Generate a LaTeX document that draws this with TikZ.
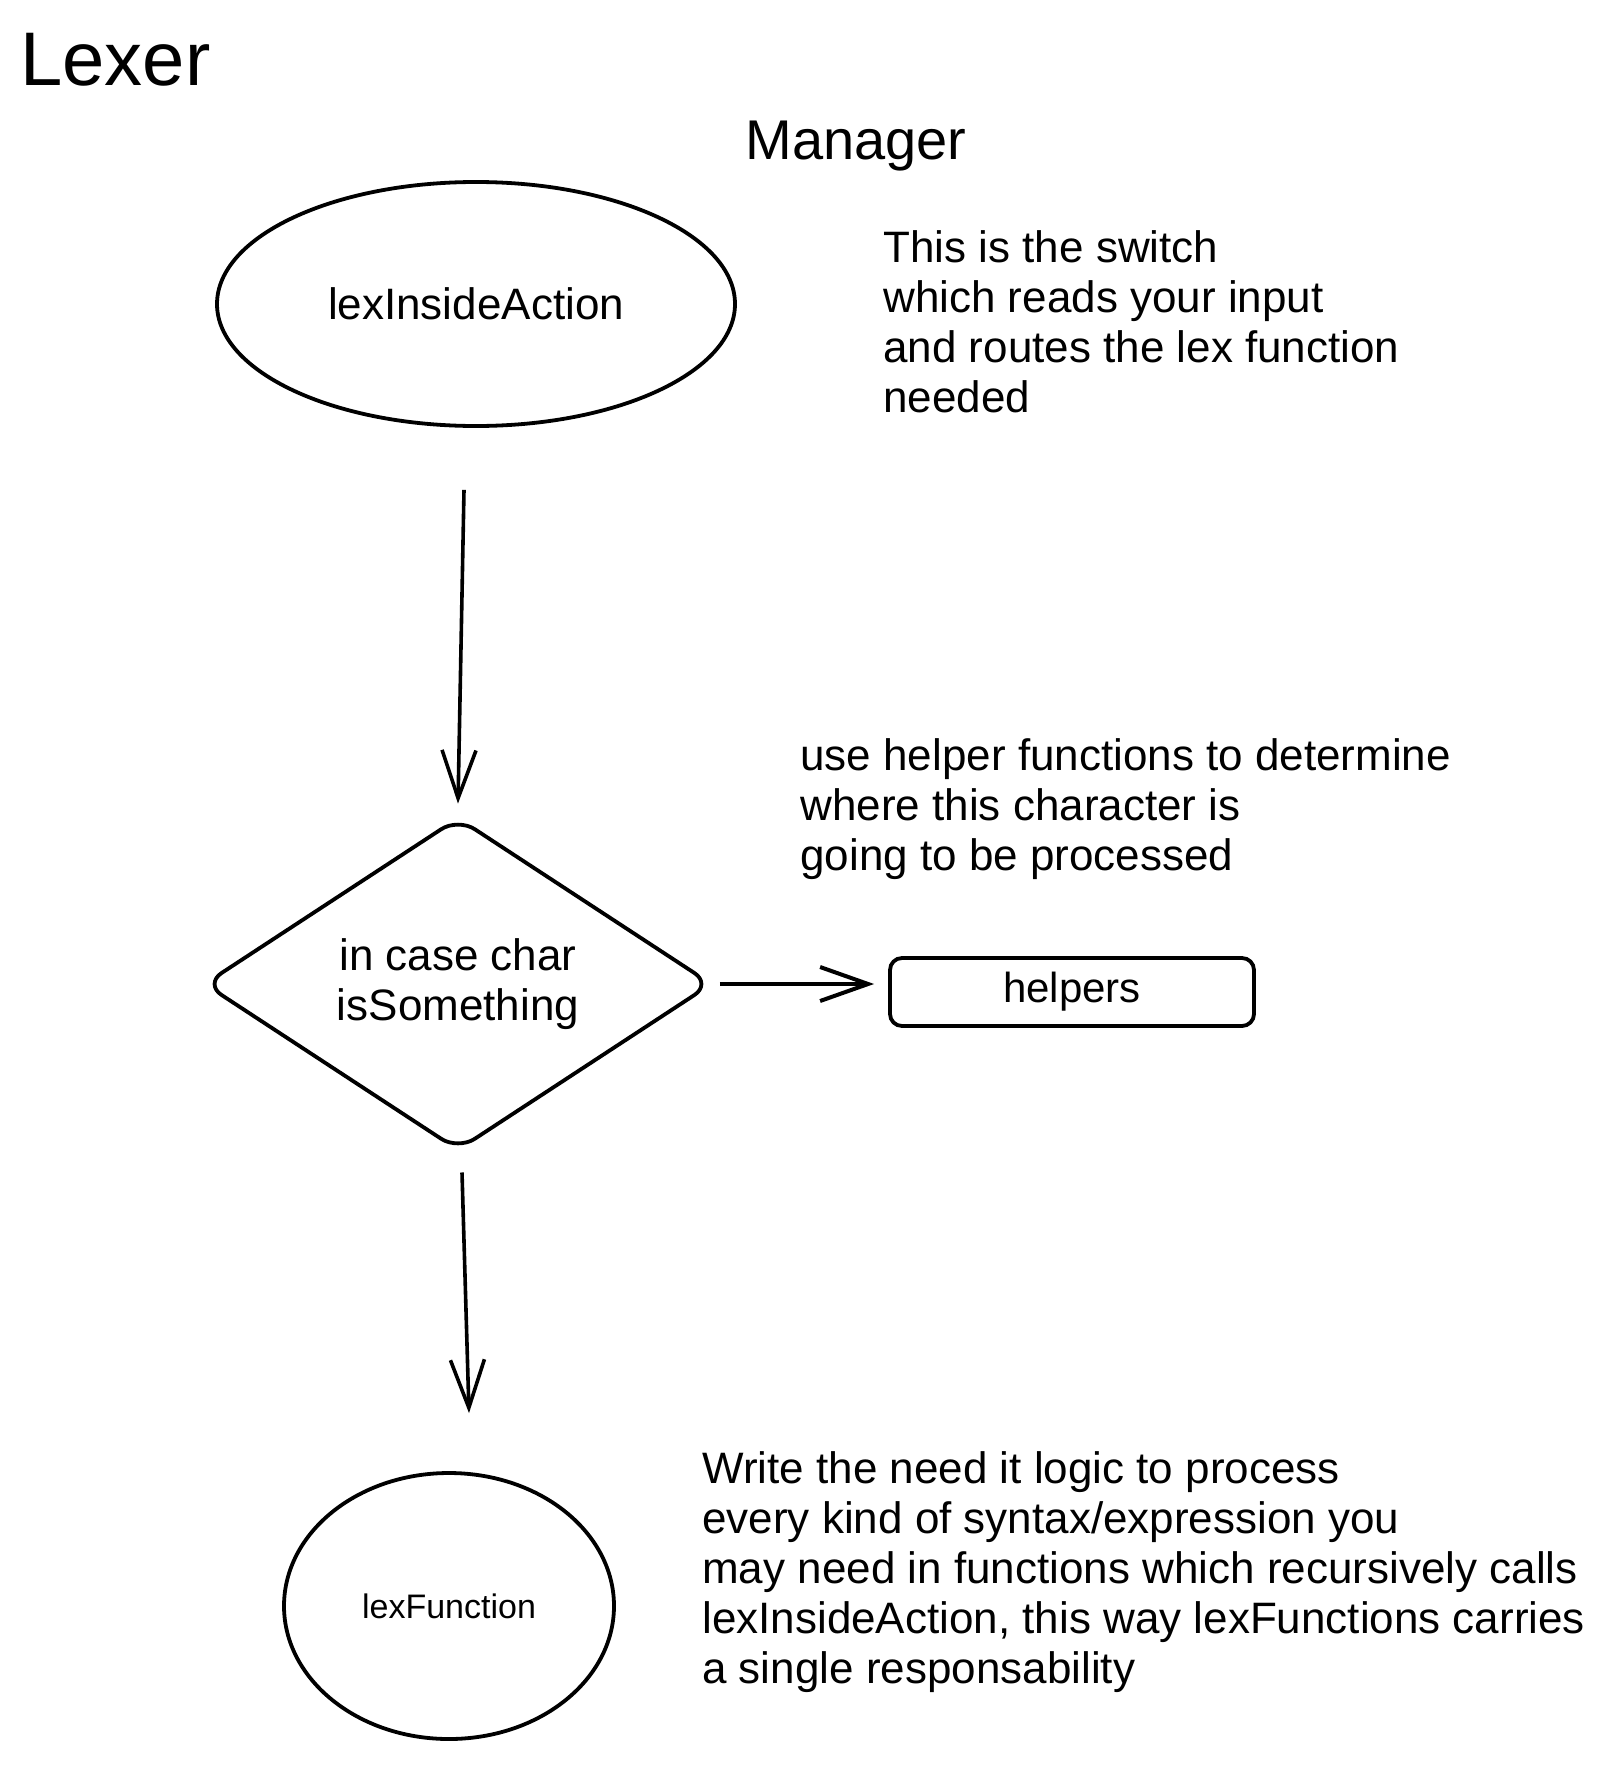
\documentclass[tikz,border=0pt]{standalone}
\usepackage{fontspec}
\setmainfont{Liberation Sans}
\usepackage{tikz}
\usetikzlibrary{arrows.meta,calc,shapes,positioning}

\begin{document}
\begin{tikzpicture}[>={Straight Barb[length=24pt,width=17pt]},
    sketch/.style={draw, line width=1.9pt, inner sep=0pt, align=center},
    note/.style={anchor=west, inner sep=0pt, align=left, font=\fontsize{22pt}{25pt}\selectfont}]
    \useasboundingbox (0,0) rectangle (808pt,-883pt);

    \node at (10pt,-43pt) [anchor=base west, inner sep=0pt, font=\fontsize{38pt}{40pt}\selectfont](lexer){Lexer};
    \node at (428pt,-80pt) [anchor=base, inner sep=0pt, font=\fontsize{28pt}{30pt}\selectfont](man){Manager};
    \node at (238pt,-152pt) [sketch, ellipse, minimum width=259pt, minimum height=122pt, font=\fontsize{22pt}{25pt}\selectfont](act){lexInsideAction};
    \node at (act.east) [note, xshift=73pt, yshift=-9pt](swnote){This is the switch\\which reads your input\\and routes the lex function\\needed};
    \node at (act) [xshift=-9pt, yshift=-340pt, sketch, diamond, rounded corners=10pt, minimum width=254pt, minimum height=166pt, font=\fontsize{22pt}{25pt}\selectfont](case){in case char\\isSomething};
    \node at (case.north) [note, xshift=171pt, yshift=3pt](hlpnote){use helper functions to determine\\where this character is\\going to be processed};
    \node at (case) [xshift=307pt, yshift=-4pt, sketch, rounded corners=6pt, minimum width=182pt, minimum height=34pt, font=\fontsize{21pt}{24pt}\selectfont](help){helpers};
    \node at (case) [xshift=-4.5pt, yshift=-311pt, sketch, ellipse, minimum width=165pt, minimum height=133pt, font=\fontsize{17pt}{20pt}\selectfont](fun){lexFunction};
    \node at (fun.east) [note, xshift=43pt, yshift=17pt](funnote){Write the need it logic to process\\every kind of syntax/expression you\\may need in functions which recursively calls\\lexInsideAction, this way lexFunctions carries\\a single responsability};

    %% Arrows
    \draw [->, line width=1.8pt] ($(act.south)+(-6pt,-31pt)$) -- ($(case.north)+(0,6pt)$);
    \draw [->, line width=2pt, shorten <=3pt, shorten >=7pt] (case.east) -- (case.east -| help.west);
    \draw [->, line width=1.8pt] ($(case.south)+(2pt,-10pt)$) -- ($(fun.north)+(10pt,29pt)$);
\end{tikzpicture}
\end{document}
